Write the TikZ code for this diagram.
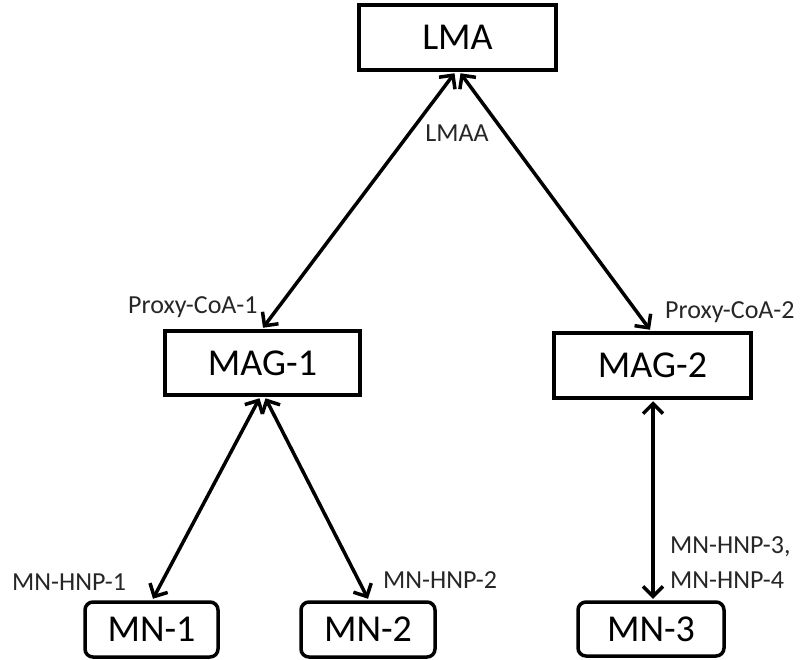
\documentclass[tikz,border=0pt]{standalone}
\usepackage{fontspec}
\setmainfont{Carlito}
\usetikzlibrary{arrows.meta}
\begin{document}
\begin{tikzpicture}[x=1pt,y=-1pt,
  box/.style={draw=black, line width=3.5pt, fill=white, inner sep=0pt, font=\fontsize{38}{40}\selectfont},
  rbox/.style={box, rounded corners=8pt},
  lbl/.style={font=\fontsize{26}{28}\selectfont, text=black!85, inner sep=0pt},
  arr/.style={line width=3.5pt, {Straight Barb[length=10pt,width=20pt]}-{Straight Barb[length=10pt,width=20pt]}}]
\useasboundingbox (0,0) rectangle (802,659);
\node[box, minimum width=197pt, minimum height=65pt] (lma) at (457.5,37.5) {LMA};
\node[box, minimum width=195pt, minimum height=64pt] (mag1) at (262.5,363) {MAG-1};
\node[box, minimum width=197pt, minimum height=65pt] (mag2) at (652.5,365.5) {MAG-2};
\node[rbox, minimum width=133pt, minimum height=55pt] (mn1) at (151.5,629.5) {MN-1};
\node[rbox, minimum width=134pt, minimum height=55pt] (mn2) at (368,629.5) {MN-2};
\node[rbox, minimum width=146pt, minimum height=54pt] (mn3) at (651,629) {MN-3};
\draw[arr] ([xshift=-3pt,yshift=-1.5pt]lma.south) -- ([xshift=0.5pt,yshift=1.5pt]mag1.north);
\draw[arr] ([xshift=3pt,yshift=-1.5pt]lma.south) -- ([xshift=-2.5pt,yshift=1.5pt]mag2.north);
\draw[arr] ([xshift=-3pt,yshift=-1.5pt]mag1.south) -- ([xshift=1.5pt,yshift=1.5pt]mn1.north);
\draw[arr] ([xshift=3pt,yshift=-1.5pt]mag1.south) -- ([yshift=1.5pt]mn2.north);
\draw[arr] ([xshift=0.5pt,yshift=-1.5pt]mag2.south) -- ([xshift=2pt,yshift=1.5pt]mn3.north);
\node[lbl] (l0) at (457,133) {LMAA};
\node[lbl, anchor=west] (l1) at (128,307) {Proxy-CoA-1};
\node[lbl, anchor=west] (l2) at (665,312) {Proxy-CoA-2};
\node[lbl, anchor=west] (l3) at (12,582) {MN-HNP-1};
\node[lbl, anchor=west] (l4) at (383,580) {MN-HNP-2};
\node[lbl, anchor=west] (l5) at (670,547) {MN-HNP-3,};
\node[lbl, anchor=west] (l6) at (670,580) {MN-HNP-4};
\end{tikzpicture}
\end{document}
